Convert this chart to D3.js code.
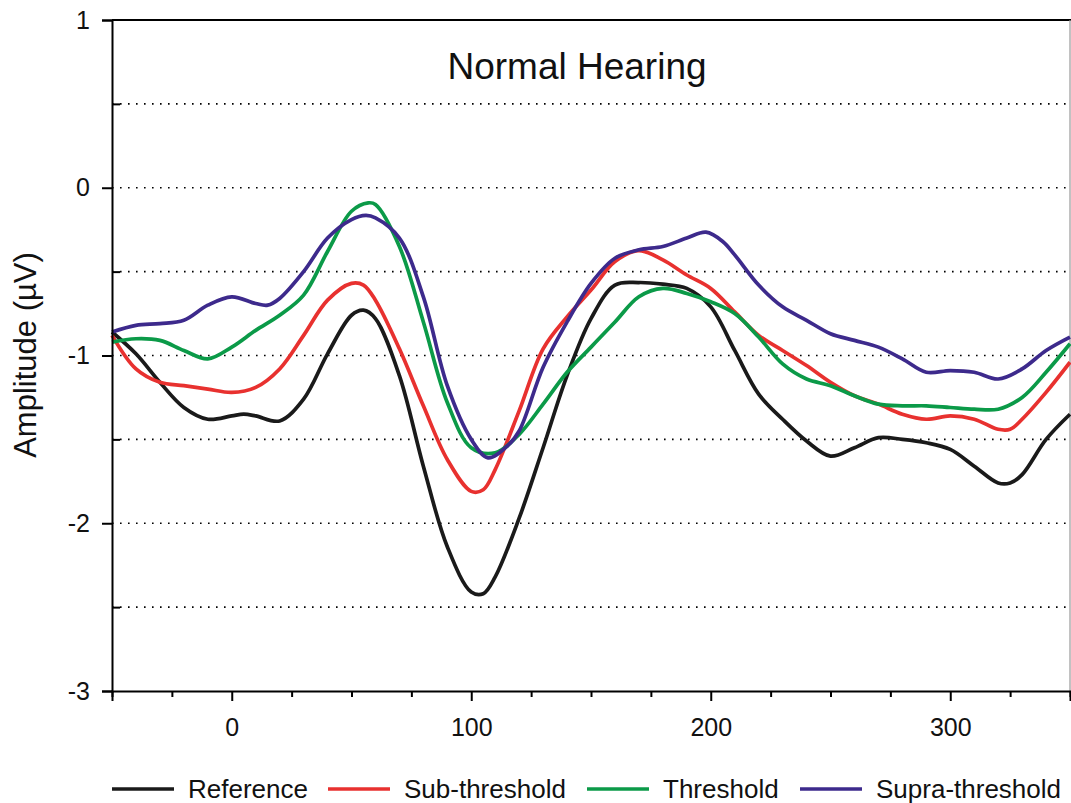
<!DOCTYPE html>
<html><head><meta charset="utf-8">
<script src="https://cdn.jsdelivr.net/npm/d3@7"></script>
<style>body{margin:0;background:#fff}svg{display:block;font-family:"Liberation Sans",Arial,sans-serif}</style>
</head><body><svg id="c" width="1071" height="803"></svg>
<script>
const title = "Normal Hearing";
const yLabel = "Amplitude (µV)";
const seriesNames = ["Reference","Sub-threshold","Threshold","Supra-threshold"];
const seriesColors = ["#1a1a1a","#e8312f","#0b9a48","#3d2a8c"];
const xTickValues = [0,100,200,300];
const yTickValues = [-3,-2,-1,0,1];
const gridValues = [0.5,0,-0.5,-1,-1.5,-2,-2.5];

const refTime = [-50,-40,-30,-20,-10,0,5,10,20,30,40,50,55,60,70,80,90,100,105,110,120,130,140,150,160,170,180,190,200,210,220,230,240,250,260,270,280,290,300,310,320,325,330,340,350];
const refAmp  = [-0.86,-0.99,-1.16,-1.31,-1.38,-1.36,-1.35,-1.36,-1.39,-1.26,-0.99,-0.76,-0.73,-0.78,-1.12,-1.66,-2.14,-2.41,-2.42,-2.32,-1.97,-1.55,-1.12,-0.78,-0.58,-0.565,-0.575,-0.6,-0.71,-0.97,-1.23,-1.38,-1.51,-1.6,-1.55,-1.49,-1.5,-1.52,-1.56,-1.66,-1.76,-1.76,-1.71,-1.5,-1.35];

const subTime = [-50,-40,-30,-20,-10,0,10,20,30,40,50,55,60,70,80,90,100,105,110,120,130,140,150,160,170,180,190,200,210,220,230,240,250,260,270,280,290,300,310,320,325,330,340,350];
const subAmp  = [-0.88,-1.08,-1.16,-1.18,-1.2,-1.22,-1.19,-1.08,-0.88,-0.67,-0.57,-0.58,-0.67,-0.96,-1.3,-1.62,-1.81,-1.8,-1.68,-1.33,-0.96,-0.77,-0.61,-0.44,-0.375,-0.43,-0.52,-0.6,-0.74,-0.88,-0.97,-1.06,-1.16,-1.24,-1.29,-1.35,-1.38,-1.36,-1.38,-1.44,-1.44,-1.38,-1.22,-1.04];

const thrTime = [-50,-40,-30,-20,-10,0,10,20,30,40,50,57,60,70,80,90,100,110,120,130,140,150,160,170,180,190,200,210,220,230,240,250,260,270,280,290,300,310,320,330,340,350];
const thrAmp  = [-0.92,-0.9,-0.91,-0.97,-1.02,-0.95,-0.85,-0.76,-0.64,-0.38,-0.14,-0.09,-0.1,-0.35,-0.8,-1.28,-1.55,-1.58,-1.47,-1.29,-1.1,-0.95,-0.8,-0.65,-0.6,-0.63,-0.68,-0.75,-0.89,-1.05,-1.14,-1.18,-1.24,-1.29,-1.3,-1.3,-1.31,-1.32,-1.32,-1.25,-1.1,-0.93];

const supTime = [-50,-40,-30,-20,-10,0,10,15,20,30,40,50,56,60,70,80,90,100,107,115,120,130,140,150,160,170,180,190,198,205,210,220,230,240,250,260,270,280,290,300,310,320,330,340,350];
const supAmp  = [-0.86,-0.82,-0.81,-0.79,-0.7,-0.65,-0.69,-0.7,-0.66,-0.5,-0.3,-0.19,-0.165,-0.18,-0.3,-0.65,-1.18,-1.5,-1.61,-1.54,-1.45,-1.07,-0.8,-0.57,-0.42,-0.37,-0.35,-0.3,-0.265,-0.32,-0.4,-0.58,-0.71,-0.79,-0.87,-0.91,-0.95,-1.02,-1.1,-1.09,-1.1,-1.14,-1.08,-0.97,-0.89];

const series = [[refTime,refAmp],[subTime,subAmp],[thrTime,thrAmp],[supTime,supAmp]]
  .map((s,i)=>({name:seriesNames[i], color:seriesColors[i], pts:s[0].map((t,j)=>[t,s[1][j]])}));

const svg = d3.select("#c");
const L=112, R=1070, T=20, B=691;
const x = d3.scaleLinear().domain([-50,350]).range([L,R]);
const y = d3.scaleLinear().domain([-3,1]).range([B,T]);
const fmt = d => String(d);

// grid
svg.append("g").selectAll("line").data(gridValues).join("line")
  .attr("x1",L).attr("x2",R).attr("y1",d=>y(d)).attr("y2",d=>y(d))
  .attr("stroke","#000").attr("stroke-width",1.6).attr("stroke-dasharray","1.6,6.4");

// frame top/right
svg.append("line").attr("x1",L).attr("x2",R+1).attr("y1",T).attr("y2",T).attr("stroke","#000").attr("stroke-width",2);
svg.append("line").attr("x1",R).attr("x2",R).attr("y1",T).attr("y2",B).attr("stroke","#999").attr("stroke-width",1.2);

// curves
const line = d3.line().x(d=>x(d[0])).y(d=>y(d[1])).curve(d3.curveCatmullRom.alpha(0.5));
svg.append("g").selectAll("path").data(series).join("path")
  .attr("d",d=>line(d.pts)).attr("fill","none").attr("stroke",d=>d.color).attr("stroke-width",3.7)
  .attr("stroke-linejoin","round");

// y axis
const yAx = svg.append("g").attr("transform",`translate(${L},0)`)
  .call(d3.axisLeft(y).tickValues(yTickValues).tickFormat(fmt).tickSize(10).tickPadding(12));
yAx.select(".domain").attr("stroke","#000").attr("stroke-width",2);
yAx.selectAll(".tick line").attr("stroke-width",2);
yAx.selectAll("text").attr("font-size",25).attr("fill","#111");
svg.append("g").attr("transform",`translate(${L},0)`)
  .call(d3.axisRight(y).tickValues(gridValues.filter(v=>v%1!==0)).tickSize(8).tickFormat(""))
  .call(g=>{g.select(".domain").remove(); g.selectAll(".tick line").attr("stroke-width",2);});

// x axis
const xAx = svg.append("g").attr("transform",`translate(0,${B})`)
  .call(d3.axisBottom(x).tickValues(xTickValues).tickFormat(fmt).tickSize(10).tickPadding(17));
xAx.select(".domain").attr("stroke","#000").attr("stroke-width",2);
xAx.selectAll(".tick line").attr("stroke-width",2);
xAx.selectAll("text").attr("font-size",25).attr("fill","#111");
svg.append("g").attr("transform",`translate(0,${B})`)
  .call(d3.axisBottom(x).tickValues(d3.range(-50,351,25).filter(v=>v%100!==0)).tickSize(6).tickFormat(""))
  .call(g=>{g.select(".domain").remove(); g.selectAll(".tick line").attr("stroke-width",2);});

// title
svg.append("text").attr("x",577).attr("y",79).attr("text-anchor","middle").attr("font-size",37).attr("fill","#111").text(title);
// y label
svg.append("text").attr("transform","translate(36,355) rotate(-90)").attr("text-anchor","middle").attr("font-size",31).attr("fill","#111").text(yLabel);

// legend
const legX = [112,328,587,800];
const lg = svg.append("g").selectAll("g").data(series).join("g").attr("transform",(d,i)=>`translate(${legX[i]},789)`);
lg.append("line").attr("x1",0).attr("x2",62).attr("stroke",d=>d.color).attr("stroke-width",3.6);
lg.append("text").attr("x",76).attr("y",9).attr("font-size",26).attr("fill","#111").text(d=>d.name);
</script></body></html>
